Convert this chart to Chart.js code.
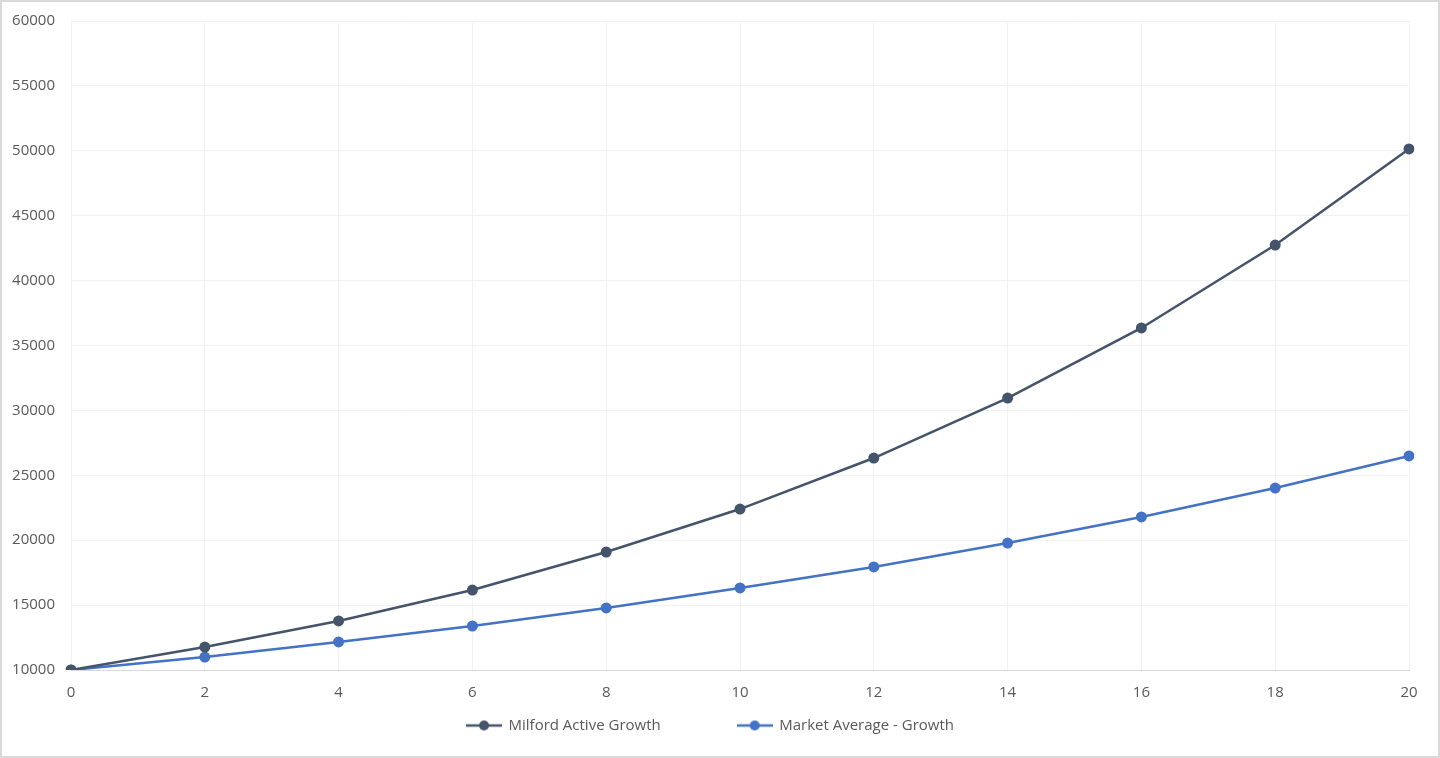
<!DOCTYPE html>
<html>
<head>
<meta charset="utf-8">
<script src="https://cdn.jsdelivr.net/npm/chart.js@4/dist/chart.umd.min.js"></script>
<style>
  html, body { margin: 0; padding: 0; background: #fff; }
  #wrap { width: 1440px; height: 758px; box-sizing: border-box; border: 2px solid #d9d9d9; }
  canvas { display: block; }
</style>
</head>
<body>
<div id="wrap"><canvas id="c" width="1436" height="754"></canvas></div>
<script>
// years since start
var years = ['0', '2', '4', '6', '8', '10', '12', '14', '16', '18', '20'];
var milford = [10000, 11770, 13780, 16160, 19090, 22400, 26330, 30950, 36350, 42740, 50140];
var market = [10000, 11000, 12160, 13390, 14780, 16320, 17940, 19780, 21790, 24020, 26490];
var seriesNames = ['Milford Active Growth', 'Market Average - Growth'];
var yMin = 10000, yMax = 60000, yStep = 5000;

var C_MIL = '#44546a', C_MKT = '#4472c4';
var TICK = '#595959';
var FONT = { family: '"Open Sans"', size: 15 };

// small line-with-dot swatch for the legend
function swatch(color) {
  var cv = document.createElement('canvas');
  cv.width = 36; cv.height = 12;
  var g = cv.getContext('2d');
  g.strokeStyle = color; g.lineWidth = 2.5;
  g.beginPath(); g.moveTo(0, 6); g.lineTo(36, 6); g.stroke();
  g.fillStyle = color;
  g.beginPath(); g.arc(18, 6, 5, 0, Math.PI * 2); g.fill();
  return cv;
}
var swatches = [swatch(C_MIL), swatch(C_MKT)];

new Chart(document.getElementById('c').getContext('2d'), {
  type: 'line',
  data: {
    labels: years,
    datasets: [
      { label: seriesNames[0], data: milford, borderColor: C_MIL, backgroundColor: C_MIL,
        borderWidth: 2.5, pointRadius: 5.5, pointBorderWidth: 0, tension: 0 },
      { label: seriesNames[1], data: market, borderColor: C_MKT, backgroundColor: C_MKT,
        borderWidth: 2.5, pointRadius: 5.5, pointBorderWidth: 0, tension: 0 }
    ]
  },
  options: {
    responsive: false,
    animation: false,
    layout: { padding: { left: 10, right: 29, top: 19, bottom: 13 } },
    plugins: {
      tooltip: { enabled: false },
      legend: {
        position: 'bottom',
        labels: {
          usePointStyle: true,
          pointStyleWidth: 34,
          boxHeight: 12,
          padding: 2,
          color: TICK,
          font: FONT,
          generateLabels: function (chart) {
            return chart.data.datasets.map(function (ds, i) {
              return {
                // trailing em spaces widen the gap between the two entries
                text: i === 0 ? ds.label + '\u2003\u2003\u2003\u2003\u2003' : ds.label,
                pointStyle: swatches[i],
                fillStyle: ds.borderColor,
                strokeStyle: ds.borderColor,
                lineWidth: 0,
                fontColor: TICK,
                datasetIndex: i,
                hidden: false
              };
            });
          }
        }
      }
    },
    scales: {
      x: {
        grid: { color: '#f2f2f2', drawTicks: false },
        border: { color: '#d9d9d9', width: 1 },
        ticks: { color: TICK, font: FONT, padding: 14, maxRotation: 0 }
      },
      y: {
        min: yMin, max: yMax,
        grid: { color: '#f2f2f2', drawTicks: false },
        border: { display: false },
        afterFit: function (s) { s.width = 59; s.paddingTop = 10; s.paddingBottom = 10; },
        ticks: {
          stepSize: yStep, color: TICK, font: FONT, padding: 16,
          callback: function (v) { return String(v); }
        }
      }
    }
  }
});
</script>
</body>
</html>
